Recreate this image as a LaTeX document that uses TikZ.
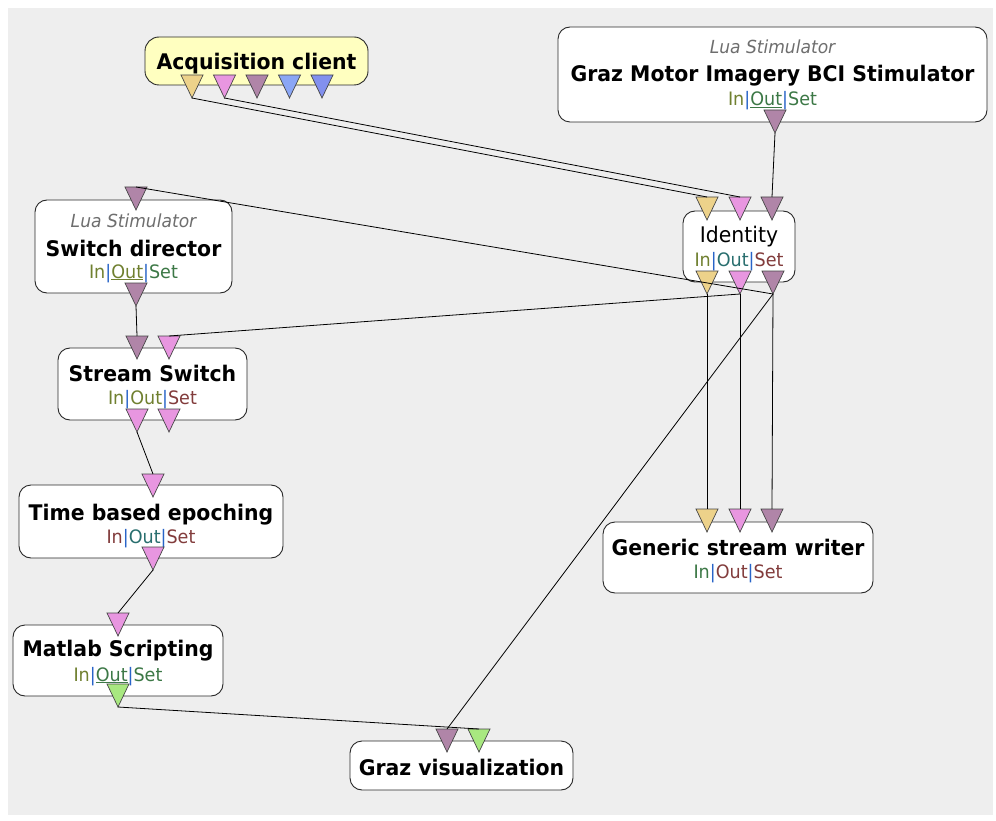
\documentclass[tikz,border=0pt]{standalone}
\usepackage{fontspec}
\setmainfont{DejaVu Sans}[FakeStretch=0.95]
\definecolor{canvas}{RGB}{238,238,238}
\definecolor{boxedge}{RGB}{40,40,40}
\definecolor{acqfill}{RGB}{255,255,192}
\definecolor{portline}{RGB}{70,70,70}
\definecolor{pyellow}{RGB}{237,210,138}
\definecolor{ppink}{RGB}{232,150,224}
\definecolor{ppurple}{RGB}{176,133,168}
\definecolor{pblue}{RGB}{138,166,245}
\definecolor{pblueb}{RGB}{130,144,238}
\definecolor{pgreen}{RGB}{168,232,128}
\definecolor{olv}{RGB}{112,128,48}
\definecolor{grn}{RGB}{60,120,70}
\definecolor{tealc}{RGB}{40,110,110}
\definecolor{brn}{RGB}{130,60,60}
\definecolor{sepb}{RGB}{40,100,200}
\definecolor{luagray}{RGB}{110,110,110}

% port triangle: name, x centre, y of top edge, fill colour
\newcommand\mkport[4]{%
  \filldraw[portedge, fill=#4] (#2-11,#3) -- (#2+11,#3) -- (#2,#3+23) -- cycle;
  \coordinate (#1-top) at (#2,#3);
  \coordinate (#1-tip) at (#2,#3+23);
}
% In|Out|Set line: colours of In, Out, Set, and the Out text
\newcommand\ioset[4]{\textcolor{#1}{In}\textcolor{sepb}{|}\textcolor{#2}{#4}\textcolor{sepb}{|}\textcolor{#3}{Set}}

\begin{document}
\begin{tikzpicture}[x=1pt,y=-1pt,
  blk/.style={draw=boxedge, fill=white, rounded corners=12pt, line width=0.9pt, inner sep=0pt},
  ttl/.style={font=\fontsize{21.5}{23}\selectfont\bfseries, inner sep=0pt, anchor=base},
  plain/.style={font=\fontsize{21.5}{23}\selectfont, inner sep=0pt, anchor=base},
  ios/.style={font=\fontsize{18.5}{20}\selectfont, inner sep=0pt, anchor=base},
  lua/.style={font=\fontsize{18}{20}\selectfont\itshape, text=luagray, inner sep=0pt, anchor=base},
  portedge/.style={draw=portline, line width=0.7pt, line join=miter},
  link/.style={draw=black, line width=0.8pt}]
\useasboundingbox (0,0) rectangle (996,821);
\fill[white] (0,0) rectangle (996,821);
\fill[canvas] (8,8) rectangle (993,815);

% boxes
\node[blk, fill=acqfill, rounded corners=14pt, minimum width=223pt, minimum height=48pt] (acq) at (256.5,61) {};
\node[blk, minimum width=429pt, minimum height=95pt] (graz) at (772.5,74.5) {};
\node[blk, minimum width=112pt, minimum height=71pt] (ident) at (739,246.5) {};
\node[blk, minimum width=197pt, minimum height=93pt] (sdir) at (133.5,246.5) {};
\node[blk, minimum width=189pt, minimum height=72pt] (sswitch) at (152.5,384) {};
\node[blk, minimum width=264pt, minimum height=73pt] (tbe) at (151,521.5) {};
\node[blk, minimum width=210pt, minimum height=71pt] (mlab) at (118,660.5) {};
\node[blk, minimum width=223pt, minimum height=49pt] (gviz) at (461.5,765.5) {};
\node[blk, minimum width=270pt, minimum height=71pt] (gsw) at (738,557.5) {};

% texts
\node[ttl] (acq-t) at (256.5,70) {Acquisition client};
\node[lua] (graz-l) at (772.5,54) {Lua Stimulator};
\node[ttl] (graz-t) at (772.5,82) {Graz Motor Imagery BCI Stimulator};
\node[ios] (graz-i) at (772.5,106) {\ioset{olv}{grn}{grn}{\underline{Out}}};
\node[plain] (ident-t) at (739,243) {Identity};
\node[ios] (ident-i) at (739,266) {\ioset{olv}{tealc}{brn}{Out}};
\node[lua] (sdir-l) at (133.5,228) {Lua Stimulator};
\node[ttl] (sdir-t) at (133.5,256) {Switch director};
\node[ios] (sdir-i) at (133.5,278) {\ioset{olv}{olv}{grn}{\underline{Out}}};
\node[ttl] (sswitch-t) at (152.5,381) {Stream Switch};
\node[ios] (sswitch-i) at (152.5,404) {\ioset{olv}{olv}{brn}{Out}};
\node[ttl] (tbe-t) at (151,520) {Time based epoching};
\node[ios] (tbe-i) at (151,543) {\ioset{brn}{tealc}{brn}{Out}};
\node[ttl] (mlab-t) at (118,656) {Matlab Scripting};
\node[ios] (mlab-i) at (118,681) {\ioset{olv}{grn}{grn}{\underline{Out}}};
\node[ttl] (gviz-t) at (461.5,775) {Graz visualization};
\node[ttl] (gsw-t) at (738,555) {Generic stream writer};
\node[ios] (gsw-i) at (738,578) {\ioset{grn}{brn}{brn}{Out}};

% ports
\mkport{acq-o1}{192}{75}{pyellow}
\mkport{acq-o2}{224.5}{75}{ppink}
\mkport{acq-o3}{257}{75}{ppurple}
\mkport{acq-o4}{289.5}{75}{pblue}
\mkport{acq-o5}{322}{75}{pblueb}
\mkport{graz-o1}{775}{110}{ppurple}
\mkport{ident-i1}{707}{197}{pyellow}
\mkport{ident-i2}{740}{197}{ppink}
\mkport{ident-i3}{772}{197}{ppurple}
\mkport{ident-o1}{707}{271}{pyellow}
\mkport{ident-o2}{740}{271}{ppink}
\mkport{ident-o3}{773}{271}{ppurple}
\mkport{sdir-i1}{136}{187}{ppurple}
\mkport{sdir-o1}{136}{283}{ppurple}
\mkport{sswitch-i1}{137}{336}{ppurple}
\mkport{sswitch-i2}{169}{336}{ppink}
\mkport{sswitch-o1}{137}{409}{ppink}
\mkport{sswitch-o2}{169}{409}{ppink}
\mkport{tbe-i1}{153}{474}{ppink}
\mkport{tbe-o1}{153}{547}{ppink}
\mkport{mlab-i1}{118}{613}{ppink}
\mkport{mlab-o1}{118}{684}{pgreen}
\mkport{gviz-i1}{447}{729}{ppurple}
\mkport{gviz-i2}{479}{729}{pgreen}
\mkport{gsw-i1}{707}{509}{pyellow}
\mkport{gsw-i2}{740}{509}{ppink}
\mkport{gsw-i3}{772}{509}{ppurple}

% links
\draw[link] (acq-o1-tip) -- (ident-i1-top);
\draw[link] (acq-o2-tip) -- (ident-i2-top);
\draw[link] (graz-o1-tip) -- (ident-i3-top);
\draw[link] (ident-o3-tip) -- (sdir-i1-top);
\draw[link] (ident-o2-tip) -- (sswitch-i2-top);
\draw[link] (ident-o3-tip) -- (gviz-i1-top);
\draw[link] (ident-o1-tip) -- (gsw-i1-top);
\draw[link] (ident-o2-tip) -- (gsw-i2-top);
\draw[link] (ident-o3-tip) -- (gsw-i3-top);
\draw[link] (sdir-o1-tip) -- (sswitch-i1-top);
\draw[link] (sswitch-o1-tip) -- (tbe-i1-top);
\draw[link] (tbe-o1-tip) -- (mlab-i1-top);
\draw[link] (mlab-o1-tip) -- (gviz-i2-top);
\end{tikzpicture}
\end{document}
